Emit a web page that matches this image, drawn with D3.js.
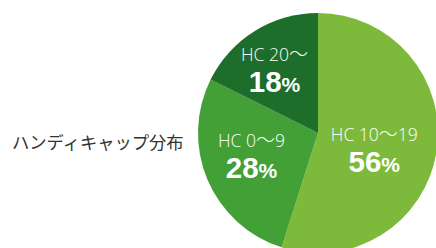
<!DOCTYPE html>
<html><head><meta charset="utf-8">
<script src="https://cdn.jsdelivr.net/npm/d3@7"></script>
<style>html,body{margin:0;padding:0;background:#fff;}svg{display:block;}</style>
</head><body>
<svg id="chart" width="436" height="248"></svg>
<script>
const title = "ハンディキャップ分布";
const categories = ["HC 10〜19", "HC 0〜9", "HC 20〜"];
const values = [56, 28, 18];
const colors = ["#7dba3b", "#42a037", "#1d6d2b"];

const svg = d3.select("#chart");
const cx = 318, cy = 133, R = 120;
const g = svg.append("g").attr("transform", `translate(${cx},${cy})`);
const pie = d3.pie().sort(null).value(d => d.v);
const data = pie(categories.map((c, i) => ({c, v: values[i], col: colors[i]})));
const arc = d3.arc().innerRadius(0).outerRadius(R);
g.selectAll("path").data(data).join("path").attr("d", arc).attr("fill", d => d.data.col);

const labelR = [60, 70, 75];
const labelDx = [-3, -2, -4];
const labelDy = [-1, -13, -8];
const labels = g.selectAll("g.lab").data(data).join("g").attr("class", "lab")
  .attr("transform", (d, i) => {
    const c = d3.arc().innerRadius(labelR[i]).outerRadius(labelR[i]).centroid(d);
    return `translate(${c[0] + labelDx[i]},${c[1] + labelDy[i]})`;
  });
const hc = labels.append("text").attr("text-anchor", "middle").attr("y", 0)
  .attr("fill", "#fff").attr("font-family", "'Open Sans', sans-serif").attr("font-weight", 300)
  .attr("font-size", 17.5);
hc.each(function(d) {
  const parts = d.data.c.split("〜");
  const t = d3.select(this);
  t.append("tspan").text(parts[0]);
  t.append("tspan").attr("font-family", "'Noto Sans CJK JP', sans-serif").attr("font-weight", 200)
    .attr("font-size", 19).text("〜");
  if (parts[1]) t.append("tspan").text(parts[1]);
});
const pt = labels.append("text").attr("text-anchor", "middle").attr("y", 31)
  .attr("fill", "#fff").attr("font-family", "'Liberation Sans', Arial, sans-serif").attr("font-weight", 700);
pt.append("tspan").attr("font-size", 29.5).text(d => d.data.v);
pt.append("tspan").attr("font-size", 21).text("%");

svg.append("text").attr("x", 12).attr("y", 149).attr("fill", "#333")
  .attr("font-family", "'Noto Sans CJK JP', sans-serif").attr("font-size", 17.3).text(title);
</script>
</body></html>
